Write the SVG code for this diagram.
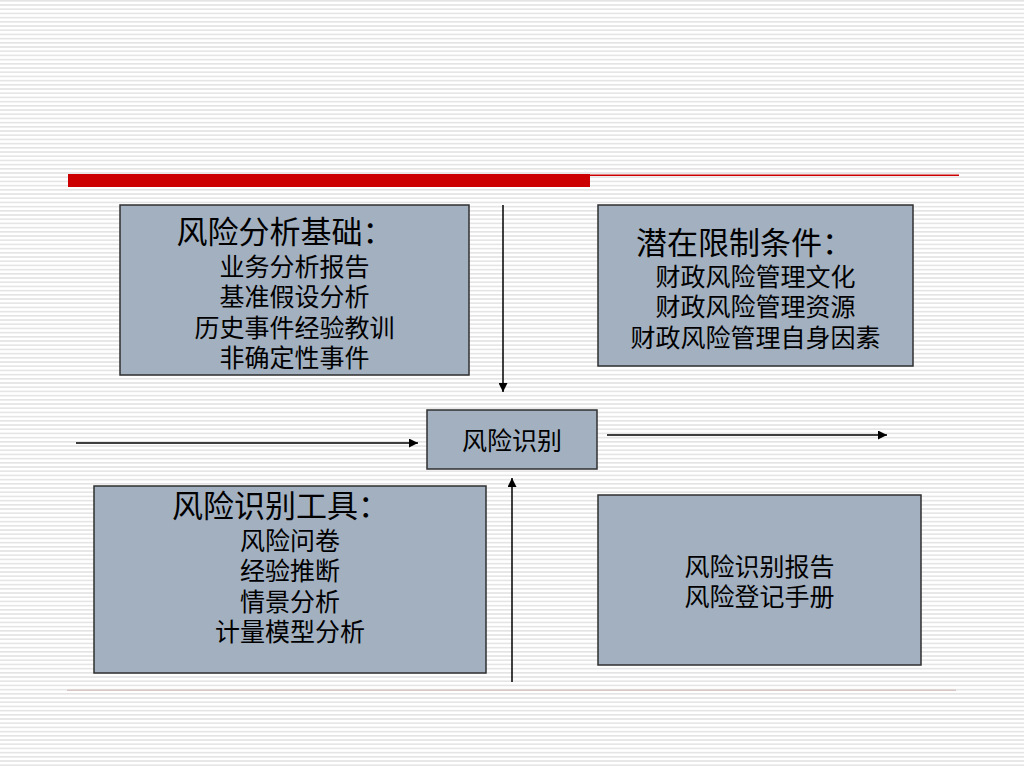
<svg xmlns="http://www.w3.org/2000/svg" width="1024" height="768" viewBox="0 0 1024 768">
<defs>
<pattern id="stripes" x="0" y="0" width="8" height="4.2" patternUnits="userSpaceOnUse">
<rect x="0" y="0" width="8" height="1.6" fill="#e4e4e4"/>
</pattern>
<marker id="arr" viewBox="0 0 10 10" refX="10" refY="5" markerWidth="10" markerHeight="9" markerUnits="userSpaceOnUse" orient="auto">
<path d="M0,0 L10,5 L0,10 z" fill="#000"/>
</marker>
<style>
.box{fill:#a3b0c0;stroke:#2f2f2f;stroke-width:1.5}
.t{font-family:"Liberation Serif","Noto Sans CJK SC",serif;fill:#000;text-anchor:middle}
.h{font-size:31px}
.b{font-size:25px}
.c{stroke:#000;stroke-width:1.5;fill:none;marker-end:url(#arr)}
</style>
</defs>
<rect width="1024" height="768" fill="#fff"/>
<rect width="1024" height="768" fill="url(#stripes)"/>
<g id="decor">
<rect x="68" y="174" width="522" height="13" fill="#cc0000"/>
<rect x="590" y="174.5" width="369" height="1.5" fill="#cc0000"/>
<rect x="67" y="689.5" width="889" height="1.5" fill="#d8c6c6"/>
</g>
<g id="connectors">
<line class="c" x1="503" y1="205" x2="503" y2="392"/>
<line class="c" x1="76" y1="443" x2="418" y2="443"/>
<line class="c" x1="607" y1="435" x2="887" y2="435"/>
<line class="c" x1="512" y1="682" x2="512" y2="478"/>
</g>
<g id="basis">
<rect class="box" x="120" y="205" width="349" height="170"/>
<text class="t h" x="285" y="243">风险分析基础：</text>
<text class="t b" x="294.5" y="276">业务分析报告</text>
<text class="t b" x="294.5" y="306">基准假设分析</text>
<text class="t b" x="294.5" y="337">历史事件经验教训</text>
<text class="t b" x="294.5" y="367">非确定性事件</text>
</g>
<g id="constraints">
<rect class="box" x="598" y="205" width="315" height="161"/>
<text class="t h" x="744.5" y="254">潜在限制条件：</text>
<text class="t b" x="755.5" y="286">财政风险管理文化</text>
<text class="t b" x="755.5" y="316">财政风险管理资源</text>
<text class="t b" x="755.5" y="347">财政风险管理自身因素</text>
</g>
<g id="identify">
<rect class="box" x="427" y="410" width="170" height="59"/>
<text class="t b" x="512" y="450">风险识别</text>
</g>
<g id="tools">
<rect class="box" x="94" y="486" width="392" height="187"/>
<text class="t h" x="280.5" y="517">风险识别工具：</text>
<text class="t b" x="290" y="550">风险问卷</text>
<text class="t b" x="290" y="580">经验推断</text>
<text class="t b" x="290" y="611">情景分析</text>
<text class="t b" x="290" y="641">计量模型分析</text>
</g>
<g id="output">
<rect class="box" x="598" y="495" width="323" height="170"/>
<text class="t b" x="759.5" y="576">风险识别报告</text>
<text class="t b" x="759.5" y="606">风险登记手册</text>
</g>
</svg>
